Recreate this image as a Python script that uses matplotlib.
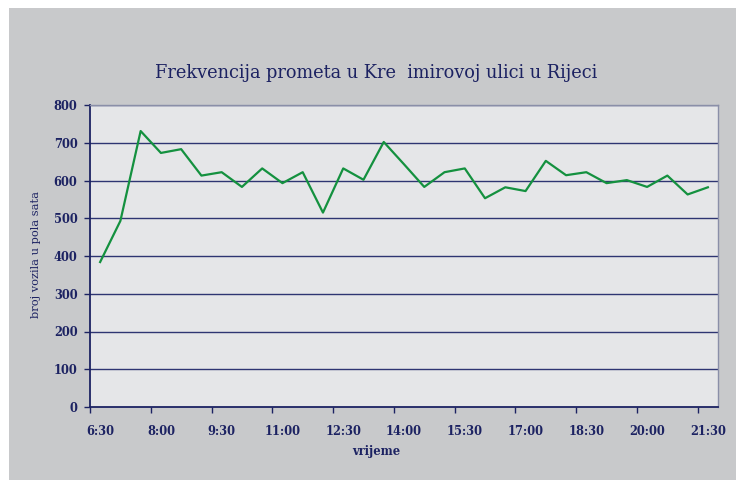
import matplotlib
matplotlib.use('Agg')
import matplotlib.pyplot as plt
from matplotlib.patches import Rectangle

# half-hour counts, 6:30 .. 21:30
times = ['6:30', '7:00', '7:30', '8:00', '8:30', '9:00', '9:30', '10:00', '10:30',
         '11:00', '11:30', '12:00', '12:30', '13:00', '13:30', '14:00', '14:30',
         '15:00', '15:30', '16:00', '16:30', '17:00', '17:30', '18:00', '18:30',
         '19:00', '19:30', '20:00', '20:30', '21:00', '21:30']
vozila = [384, 493, 731, 673, 683, 613, 622, 583, 632, 593, 622, 515, 632, 602,
          702, 643, 583, 622, 632, 553, 582, 572, 652, 614, 622, 593, 601, 583,
          613, 563, 582]
y_ticks = [0, 100, 200, 300, 400, 500, 600, 700, 800]

navy = '#1c2262'
grid_col = '#2e3572'
bg = '#c8c9cb'
plot_bg = '#e5e6e8'
green = '#14913f'

plt.rcParams['font.family'] = ['DejaVu Serif']

fig = plt.figure(figsize=(7.36, 4.8), dpi=100)
fig.patch.set_facecolor('white')
fig.patches.append(Rectangle((9 / 736, 0), 1, 1 - 8 / 480, transform=fig.transFigure,
                             facecolor=bg, edgecolor='none', zorder=-10))

ax = fig.add_axes([90 / 736, 1 - 407 / 480, 628 / 736, 302 / 480])
ax.set_facecolor(plot_bg)

x = list(range(len(times)))
ax.plot(x, vozila, color=green, linewidth=1.6, zorder=3)

ax.set_xlim(-0.5, len(times) - 0.5)
ax.set_ylim(0, 800)
ax.set_yticks(y_ticks)
ax.set_yticklabels([str(v) for v in y_ticks])
for v in y_ticks[1:]:
    ax.axhline(v, color=grid_col, linewidth=1.0, zorder=1)

# category axis: ticks between categories, labels every third category
ax.set_xticks([i - 0.5 for i in range(0, len(times), 3)])
ax.set_xticklabels([])
ax.set_xticks(x[::3], minor=True)
ax.set_xticklabels(times[::3], minor=True)
ax.tick_params(axis='x', which='minor', length=0, pad=13)
ax.tick_params(axis='x', which='major', length=4, width=1, color=navy, direction='out')
ax.tick_params(axis='y', length=4, width=1, color=navy, direction='out', pad=5)
for lbl in ax.get_xticklabels(minor=True) + ax.get_yticklabels():
    lbl.set_color(navy)
    lbl.set_fontweight('bold')
    lbl.set_fontsize(8.3)

for s in ['left', 'bottom']:
    ax.spines[s].set_color(navy)
    ax.spines[s].set_linewidth(1.3)
for s in ['right', 'top']:
    ax.spines[s].set_color('#8a8fa8')
    ax.spines[s].set_linewidth(1.0)

fig.text(0.511, 1 - 73 / 480, 'Frekvencija prometa u Kre  imirovoj ulici u Rijeci',
         ha='center', va='center', fontsize=12.8, color=navy)
fig.text(36 / 736, 1 - 255 / 480, 'broj vozila u pola sata', rotation=90,
         ha='center', va='center', fontsize=8.2, color=navy)
fig.text(376 / 736, 1 - 452 / 480, 'vrijeme', ha='center', va='center',
         fontsize=8.3, color=navy, fontweight='semibold')

plt.savefig('out.png', dpi=100)
